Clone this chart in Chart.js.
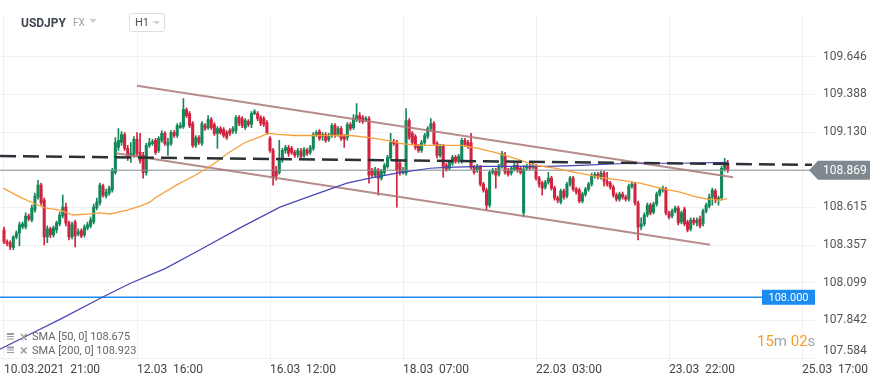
<!DOCTYPE html>
<html>
<head>
<meta charset="utf-8">
<title>USDJPY H1</title>
<script src="https://cdn.jsdelivr.net/npm/chart.js@4.4.1/dist/chart.umd.min.js"></script>
<style>
  html, body { margin: 0; padding: 0; background: #fff; }
  #box { position: relative; width: 882px; height: 385px; }
</style>
</head>
<body>
<div id="box"><canvas id="usdjpy"></canvas></div>
<script>
// USDJPY H1 candles (index 0 = 10.03.2021 21:00)
const open = [
  108.461,108.379,108.373,108.339,108.413,108.441,108.481,108.481,108.556,108.529,
  108.597,108.685,108.767,108.665,108.413,108.468,108.427,108.461,108.502,108.556,
  108.617,108.509,108.413,108.515,108.434,108.454,108.427,108.475,108.488,108.515,
  108.611,108.645,108.760,108.692,108.713,108.733,108.855,109.025,109.059,109.114,
  109.019,108.971,108.971,109.080,108.991,108.971,108.855,109.039,109.053,109.073,
  109.005,109.073,109.121,109.039,109.053,109.127,109.107,109.161,109.168,109.284,
  109.257,109.189,109.039,109.093,109.053,109.175,109.161,109.216,109.182,109.121,
  109.155,109.148,109.127,109.141,109.134,109.141,109.229,109.223,109.161,109.202,
  109.182,109.257,109.257,109.229,109.223,109.195,109.087,109.005,108.869,108.855,
  108.951,109.005,109.025,109.019,108.991,108.978,108.998,108.971,109.005,108.991,
  109.019,109.114,109.134,109.100,109.114,109.080,109.107,109.175,109.114,109.155,
  109.100,109.093,109.182,109.161,109.216,109.243,109.229,109.216,109.223,108.869,
  108.835,108.869,108.815,108.855,108.896,108.951,109.066,109.053,108.917,108.855,
  108.849,109.209,109.121,109.100,109.032,109.005,109.059,109.100,109.155,109.189,
  109.053,108.971,109.032,108.903,108.883,108.917,108.957,108.930,108.930,109.073,
  109.059,109.059,108.889,108.869,108.889,108.774,108.733,108.631,108.855,108.862,
  108.842,108.896,108.971,108.869,108.849,108.876,108.903,108.883,108.577,108.883,
  108.896,108.889,108.896,108.815,108.781,108.753,108.787,108.815,108.747,108.679,
  108.651,108.726,108.692,108.774,108.815,108.740,108.733,108.658,108.706,108.740,
  108.774,108.828,108.842,108.821,108.849,108.794,108.781,108.753,108.699,108.672,
  108.706,108.685,108.672,108.760,108.774,108.645,108.481,108.502,108.563,108.631,
  108.583,108.638,108.706,108.733,108.740,108.577,108.556,108.590,108.611,108.515,
  108.604,108.515,108.468,108.529,108.509,108.536,108.502,108.590,108.624,108.685,
  108.726,108.672,108.679,108.876,108.917
];
const high = [
  108.481,108.393,108.386,108.420,108.454,108.515,108.515,108.577,108.570,108.631,
  108.713,108.801,108.781,108.679,108.488,108.481,108.488,108.522,108.583,108.699,
  108.645,108.522,108.515,108.529,108.468,108.468,108.495,108.515,108.549,108.638,
  108.679,108.781,108.774,108.740,108.760,108.883,109.093,109.155,109.134,109.127,
  109.039,109.059,109.100,109.127,109.121,108.991,109.053,109.087,109.080,109.087,
  109.100,109.141,109.134,109.087,109.141,109.141,109.189,109.195,109.359,109.297,
  109.270,109.202,109.107,109.107,109.202,109.189,109.243,109.229,109.195,109.168,
  109.168,109.161,109.141,109.155,109.168,109.243,109.243,109.236,109.223,109.216,
  109.270,109.284,109.270,109.243,109.236,109.209,109.100,109.019,108.896,109.073,
  109.019,109.039,109.039,109.032,109.005,109.019,109.019,109.025,109.019,109.039,
  109.127,109.141,109.148,109.127,109.127,109.121,109.189,109.189,109.168,109.168,
  109.114,109.195,109.195,109.250,109.325,109.263,109.243,109.236,109.236,108.883,
  108.889,108.883,108.876,108.917,108.971,109.121,109.080,109.073,108.937,108.889,
  109.291,109.223,109.134,109.114,109.046,109.073,109.121,109.168,109.223,109.202,
  109.066,109.046,109.046,108.917,108.937,108.971,108.971,108.978,109.087,109.087,
  109.073,109.121,108.903,108.910,108.903,108.787,108.747,108.869,108.883,108.883,
  108.910,108.998,108.991,108.883,108.896,108.917,108.917,108.896,108.903,108.910,
  108.910,108.917,108.910,108.828,108.794,108.801,108.855,108.828,108.760,108.692,
  108.740,108.740,108.787,108.828,108.828,108.753,108.747,108.719,108.753,108.787,
  108.849,108.855,108.855,108.862,108.862,108.855,108.794,108.767,108.713,108.719,
  108.719,108.699,108.774,108.787,108.787,108.658,108.543,108.577,108.645,108.645,
  108.651,108.719,108.747,108.760,108.753,108.590,108.604,108.624,108.624,108.590,
  108.617,108.529,108.543,108.543,108.543,108.556,108.604,108.645,108.706,108.747,
  108.740,108.692,108.896,108.951,108.937
];
const low = [
  108.366,108.352,108.325,108.325,108.400,108.352,108.468,108.468,108.522,108.515,
  108.583,108.672,108.631,108.359,108.373,108.407,108.413,108.441,108.488,108.543,
  108.488,108.393,108.400,108.345,108.420,108.407,108.413,108.461,108.475,108.502,
  108.597,108.631,108.685,108.679,108.699,108.719,108.842,109.005,109.039,109.005,
  108.937,108.923,108.957,108.964,108.917,108.815,108.835,109.025,109.039,108.978,
  108.991,109.059,109.039,108.971,109.039,109.093,109.093,109.155,109.155,109.229,
  109.161,109.025,109.025,109.046,109.039,109.141,109.148,109.148,109.107,109.019,
  109.114,109.093,109.080,109.107,109.121,109.121,109.175,109.161,109.148,109.168,
  109.161,109.250,109.209,109.175,109.168,109.114,108.991,108.767,108.801,108.842,
  108.923,108.985,108.964,108.978,108.957,108.957,108.951,108.957,108.971,108.978,
  109.005,109.100,109.073,109.073,109.059,109.066,109.093,109.093,109.100,109.073,
  109.025,109.073,109.141,109.148,109.202,109.195,109.189,109.202,108.781,108.821,
  108.821,108.699,108.801,108.835,108.883,108.937,109.039,108.617,108.835,108.842,
  108.835,109.080,109.046,109.012,108.991,108.991,109.046,109.087,109.141,109.039,
  108.951,108.957,108.821,108.862,108.869,108.903,108.917,108.917,108.917,109.032,
  109.019,108.876,108.842,108.855,108.760,108.719,108.597,108.617,108.842,108.747,
  108.828,108.883,108.842,108.828,108.835,108.862,108.855,108.842,108.549,108.869,
  108.869,108.876,108.801,108.753,108.699,108.740,108.774,108.733,108.665,108.645,
  108.638,108.672,108.679,108.760,108.726,108.706,108.645,108.645,108.692,108.726,
  108.760,108.815,108.808,108.808,108.760,108.760,108.740,108.685,108.658,108.658,
  108.672,108.658,108.658,108.747,108.631,108.393,108.461,108.488,108.549,108.563,
  108.570,108.624,108.692,108.719,108.563,108.536,108.543,108.577,108.495,108.502,
  108.488,108.447,108.454,108.495,108.488,108.475,108.488,108.577,108.611,108.631,
  108.645,108.631,108.665,108.862,108.855
];
const close = [
  108.379,108.366,108.345,108.413,108.441,108.495,108.502,108.556,108.536,108.611,
  108.692,108.767,108.645,108.413,108.468,108.427,108.475,108.509,108.563,108.617,
  108.509,108.413,108.495,108.420,108.447,108.420,108.481,108.495,108.529,108.617,
  108.651,108.767,108.699,108.719,108.747,108.869,109.059,109.073,109.114,109.019,
  108.957,108.985,109.080,108.985,108.937,108.855,109.039,109.059,109.066,108.991,
  109.087,109.121,109.053,109.059,109.127,109.107,109.175,109.175,109.284,109.243,
  109.175,109.039,109.093,109.059,109.189,109.155,109.216,109.161,109.121,109.155,
  109.127,109.107,109.093,109.121,109.155,109.229,109.189,109.175,109.209,109.182,
  109.257,109.270,109.223,109.189,109.182,109.127,109.005,108.821,108.828,108.951,
  109.005,109.025,108.985,108.991,108.971,109.005,108.964,109.012,108.985,109.025,
  109.114,109.127,109.087,109.114,109.073,109.107,109.175,109.107,109.155,109.087,
  109.080,109.182,109.155,109.223,109.243,109.209,109.202,109.223,108.835,108.835,
  108.876,108.815,108.862,108.903,108.957,109.059,109.053,108.869,108.855,108.869,
  109.209,109.093,109.059,109.025,109.005,109.059,109.107,109.155,109.189,109.053,
  108.971,109.032,108.896,108.876,108.923,108.957,108.930,108.964,109.073,109.046,
  109.032,108.889,108.855,108.896,108.774,108.733,108.631,108.855,108.869,108.835,
  108.896,108.985,108.855,108.842,108.883,108.903,108.869,108.855,108.876,108.896,
  108.883,108.903,108.815,108.774,108.747,108.787,108.815,108.747,108.679,108.665,
  108.726,108.685,108.774,108.815,108.740,108.719,108.658,108.706,108.740,108.774,
  108.828,108.842,108.821,108.849,108.794,108.774,108.753,108.699,108.672,108.706,
  108.685,108.672,108.760,108.774,108.645,108.481,108.502,108.563,108.631,108.577,
  108.638,108.706,108.733,108.747,108.577,108.549,108.590,108.611,108.509,108.577,
  108.502,108.461,108.529,108.509,108.529,108.488,108.590,108.631,108.685,108.733,
  108.665,108.679,108.883,108.917,108.869
];

// x axis: one unit = one hourly candle
const tickIdx = [0, 43, 86, 129, 172, 215, 258];
const tickLabels = ['10.03.2021  21:00', '12.03  16:00', '16.03  12:00', '18.03  07:00',
                    '22.03  03:00', '23.03  22:00', '25.03  17:00'];
const priceTicks = [107.584, 107.842, 108.099, 108.357, 108.615, 108.872, 109.130, 109.388, 109.646];

// SMA 50 (orange)
const sma50Idx = [-0.3, 5.2, 9.4, 13.3, 18.1, 22.3, 27.8, 31.0, 34.3, 39.8, 44.0, 47.2, 48.8, 56.3,
                  61.8, 67.2, 72.4, 77.9, 82.1, 85.4, 88.6, 94.1, 103.1, 111.9, 118.3, 123.8, 128.0,
                  133.5, 141.0, 148.1, 153.3, 158.7, 165.2, 171.7, 178.1, 184.6, 187.8, 192.7, 199.2,
                  205.6, 212.1, 218.6, 222.8, 227.3, 231.5, 233.8];
const sma50 = [108.747, 108.685, 108.645, 108.611, 108.597, 108.563, 108.570, 108.577, 108.570,
               108.597, 108.624, 108.651, 108.679, 108.774, 108.835, 108.903, 108.985, 109.059,
               109.093, 109.121, 109.114, 109.107, 109.107, 109.107, 109.093, 109.073, 109.053,
               109.039, 109.039, 109.039, 109.019, 108.991, 108.951, 108.903, 108.883, 108.855,
               108.842, 108.821, 108.801, 108.781, 108.747, 108.719, 108.692, 108.672, 108.665, 108.675];

// SMA 200 (dark blue)
const sma200Idx = [-1.3, 8.4, 18.1, 31.0, 40.7, 52.1, 63.4, 76.3, 89.2, 99.9, 110.9, 118.3, 127.1,
                   137.7, 143.2, 153.9, 175.6, 186.2, 202.4, 218.6, 234.1];
const sma200 = [107.645, 107.747, 107.849, 107.992, 108.094, 108.196, 108.325, 108.475, 108.617,
                108.699, 108.781, 108.815, 108.849, 108.883, 108.889, 108.896, 108.896, 108.903,
                108.917, 108.917, 108.923];

// legend readouts
const sma50Last = 108.675;
const sma200Last = 108.923;

// drawn lines
const chanTopIdx = [43.0, 235.7];
const chanTop = [109.447, 108.821];
const chanBotIdx = [36.2, 228.3];
const chanBot = [108.985, 108.359];
const trendIdx = [-1.3, 261.2];
const trend = [108.966, 108.906];

const lastPrice = 108.869;
const alertPrice = 108.000;

const GREEN = '#15885a';
const RED = '#d3223d';
const xMin = -1.293, xMax = 262.2;
const yMin = 107.564, yMax = 109.930;

Chart.defaults.font.family = 'Roboto';

const isUp = i => close[i] >= open[i];
const pts = (xs, ys) => xs.map((x, i) => ({ x: x, y: ys[i] }));
const candleColor = c => isUp(c.dataIndex) ? GREEN : RED;

function tri(ctx, x, y, w, col) {
  ctx.fillStyle = col;
  ctx.beginPath();
  ctx.moveTo(x, y);
  ctx.lineTo(x + w, y);
  ctx.lineTo(x + w / 2, y + w / 2);
  ctx.closePath();
  ctx.fill();
}

const overlay = {
  id: 'overlay',
  afterDraw(chart) {
    const ctx = chart.ctx;
    const ys = chart.scales.y;
    ctx.save();

    // header
    ctx.textBaseline = 'alphabetic';
    ctx.textAlign = 'left';
    ctx.font = 'bold 12px Roboto';
    ctx.fillStyle = '#3d4650';
    ctx.fillText('USDJPY', 21, 27);
    ctx.font = '10px Roboto';
    ctx.fillStyle = '#9aa0a6';
    ctx.fillText('FX', 73, 26);
    tri(ctx, 89, 19, 8, '#cfcfcf');
    ctx.strokeStyle = '#dedede';
    ctx.lineWidth = 1;
    ctx.beginPath();
    ctx.roundRect(129.5, 13.5, 35, 18, 2);
    ctx.stroke();
    ctx.font = '11px Roboto';
    ctx.fillStyle = '#555';
    ctx.fillText('H1', 135, 26);
    tri(ctx, 153, 21, 7, '#cfcfcf');

    // last price tag
    const py = ys.getPixelForValue(lastPrice);
    ctx.fillStyle = '#7f898f';
    ctx.beginPath();
    ctx.moveTo(809, py);
    ctx.lineTo(818, py - 9.5);
    ctx.lineTo(870, py - 9.5);
    ctx.lineTo(870, py + 9.5);
    ctx.lineTo(818, py + 9.5);
    ctx.closePath();
    ctx.fill();
    ctx.font = '12px Roboto';
    ctx.fillStyle = '#fff';
    ctx.textBaseline = 'middle';
    ctx.fillText(lastPrice.toFixed(3), 823, py + 0.5);

    // alert tag
    const ay = ys.getPixelForValue(alertPrice);
    ctx.fillStyle = '#1a8cf0';
    ctx.fillRect(762, ay - 7.5, 53, 15);
    ctx.font = '11px Roboto';
    ctx.fillStyle = '#fff';
    ctx.textAlign = 'center';
    ctx.fillText(alertPrice.toFixed(3), 788.5, ay + 0.5);

    // indicator legend
    ctx.textAlign = 'left';
    const rows = [['SMA [50, 0] ' + sma50Last.toFixed(3), 337.5],
                  ['SMA [200, 0] ' + sma200Last.toFixed(3), 351]];
    rows.forEach(r => {
      const y = r[1];
      ctx.fillStyle = '#9a9a9a';
      ctx.fillRect(7, y - 4.5, 7, 2);
      ctx.fillRect(7, y - 1.5, 7, 1);
      ctx.fillRect(7, y + 1, 7, 1);
      ctx.strokeStyle = '#a0a0a0';
      ctx.lineWidth = 1.8;
      ctx.beginPath();
      ctx.moveTo(21, y - 3.5); ctx.lineTo(26.5, y + 2.5);
      ctx.moveTo(26.5, y - 3.5); ctx.lineTo(21, y + 2.5);
      ctx.stroke();
      ctx.font = '11px Roboto';
      ctx.fillStyle = '#666';
      ctx.fillText(r[0], 32, y);
    });

    // candle countdown
    ctx.textBaseline = 'alphabetic';
    ctx.font = '15px Roboto';
    let tx = 757;
    [['15', '#f5a02a'], ['m ', '#a0a6ab'], ['02', '#f5a02a'], ['s', '#a0a6ab']].forEach(p => {
      ctx.fillStyle = p[1];
      ctx.fillText(p[0], tx, 346);
      tx += ctx.measureText(p[0]).width;
    });

    ctx.restore();
  }
};

const lineDs = (label, data, color, width, order, extra) => Object.assign({
  type: 'line', label: label, data: data, borderColor: color, borderWidth: width,
  pointRadius: 0, tension: 0, fill: false, order: order
}, extra || {});

new Chart(document.getElementById('usdjpy'), {
  type: 'bar',
  data: {
    datasets: [
      lineDs('trend', pts(trendIdx, trend), '#2b3136', 2.5, 1, { borderDash: [16, 7] }),
      lineDs('SMA 50', pts(sma50Idx, sma50), '#f6a03a', 1.3, 2),
      lineDs('SMA 200', pts(sma200Idx, sma200), '#4747b5', 1.2, 2),
      lineDs('channel top', pts(chanTopIdx, chanTop), 'rgba(170,120,120,0.85)', 2, 3),
      lineDs('channel bottom', pts(chanBotIdx, chanBot), 'rgba(170,120,120,0.85)', 2, 3),
      lineDs('last', pts([xMin, xMax], [lastPrice, lastPrice]), '#8c9296', 1, 4),
      lineDs('alert', pts([xMin, 245.1], [alertPrice, alertPrice]), '#1a8cf0', 1.5, 4),
      {
        type: 'bar', label: 'body',
        data: close.map((v, i) => ({ x: i, y: [open[i], close[i]] })),
        backgroundColor: candleColor, barThickness: 2.4, minBarLength: 1,
        grouped: false, order: 5
      },
      {
        type: 'bar', label: 'wick',
        data: close.map((v, i) => ({ x: i, y: [low[i], high[i]] })),
        backgroundColor: candleColor, barThickness: 1, minBarLength: 1,
        grouped: false, order: 6
      }
    ]
  },
  options: {
    responsive: true,
    maintainAspectRatio: false,
    animation: false,
    layout: { padding: { top: 15, left: 0, right: 0, bottom: 0 } },
    plugins: { legend: { display: false }, tooltip: { enabled: false } },
    scales: {
      x: {
        type: 'linear', min: xMin, max: xMax, offset: false,
        grid: { color: '#f0f0f0', drawTicks: false, offset: false },
        border: { display: false },
        afterBuildTicks: ax => { ax.ticks = tickIdx.map(v => ({ value: v })); },
        afterFit: ax => { ax.height = 24; },
        ticks: {
          align: 'start', autoSkip: false, maxRotation: 0, padding: 2,
          color: '#444', font: { size: 12 },
          callback: v => tickLabels[tickIdx.indexOf(v)] || ''
        }
      },
      y: {
        type: 'linear', position: 'right', min: yMin, max: yMax, beginAtZero: false,
        grid: { color: '#f0f0f0', drawTicks: false },
        border: { display: false },
        afterBuildTicks: ax => { ax.ticks = priceTicks.map(v => ({ value: v })); },
        afterFit: ax => { ax.width = 67; },
        ticks: {
          padding: 8, color: '#555', font: { size: 12 },
          callback: v => {
            if (v === 108.872) return '';
            if (v === priceTicks[0]) return [v.toFixed(3), ''];
            return v.toFixed(3);
          }
        }
      }
    }
  },
  plugins: [overlay]
});
</script>
</body>
</html>
